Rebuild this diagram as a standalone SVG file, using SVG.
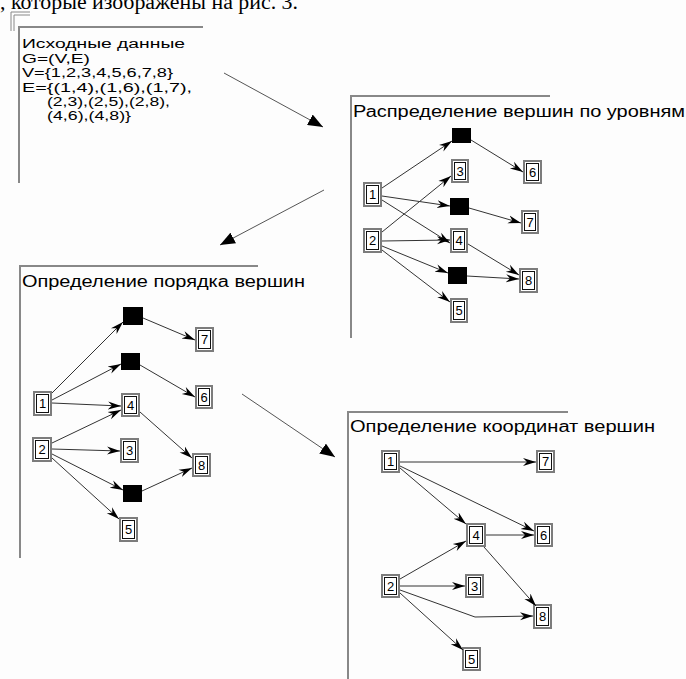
<svg xmlns="http://www.w3.org/2000/svg" width="686" height="679" viewBox="0 0 686 679">
<style>
.bg{fill:#fdfdfd}
.frame{stroke:#888;stroke-width:2;fill:none}
.t{font-family:"Liberation Sans",Arial,sans-serif;fill:#000}
.p1{font-size:12.5px}
.title{font-size:16px}
.num{font-size:13px;text-anchor:middle}
.ob{fill:#fff;stroke:#7c7c7c;stroke-width:2}
.ib{fill:none;stroke:#111;stroke-width:1}
.blk{fill:#000}
.e{stroke:#333;stroke-width:1;fill:none;marker-end:url(#ah)}
.big{stroke:#555;stroke-width:1;fill:none;marker-end:url(#bh)}
</style>
<defs>
<marker id="ah" markerUnits="userSpaceOnUse" markerWidth="14" markerHeight="10" refX="13" refY="5" orient="auto">
<path d="M0,1 L13,5 L0,9 L4,5 Z" fill="#000"/>
</marker>
<marker id="bh" markerUnits="userSpaceOnUse" markerWidth="16" markerHeight="12" refX="15" refY="6" orient="auto">
<path d="M0,0 L15,6 L0,12 Z" fill="#000"/>
</marker>
</defs>
<rect class="bg" x="0" y="0" width="686" height="679"/>
<text x="0" y="9" font-family="'Liberation Serif','Times New Roman',serif" font-size="20" textLength="298" lengthAdjust="spacingAndGlyphs">, которые изображены на рис. 3.</text>

<g id="panel-input">
<path d="M11,31 V12 H30 M14,31 V15 H30" stroke="#888" stroke-width="1" fill="none"/>
<path class="frame" d="M19,183 V27 H203"/>
<text class="t p1" x="22" y="48" textLength="163" lengthAdjust="spacingAndGlyphs">Исходные данные</text>
<text class="t p1" x="22" y="63" textLength="68" lengthAdjust="spacingAndGlyphs">G=(V,E)</text>
<text class="t p1" x="22" y="77" textLength="151" lengthAdjust="spacingAndGlyphs">V={1,2,3,4,5,6,7,8}</text>
<text class="t p1" x="22" y="92" textLength="170" lengthAdjust="spacingAndGlyphs">E={(1,4),(1,6),(1,7),</text>
<text class="t p1" x="47" y="106" textLength="123" lengthAdjust="spacingAndGlyphs">(2,3),(2,5),(2,8),</text>
<text class="t p1" x="47" y="120" textLength="84" lengthAdjust="spacingAndGlyphs">(4,6),(4,8)}</text>
</g>

<g id="panel-levels">
<path class="frame" d="M351,338 V96 H550"/>
<text class="t title" x="353" y="117" textLength="332" lengthAdjust="spacingAndGlyphs">Распределение вершин по уровням</text>
<g id="L-n1"><rect class="ob" x="364" y="183" width="17" height="23"/><rect class="ib" x="366.5" y="185.5" width="12" height="18"/><text class="t num" x="372.5" y="199">1</text></g>
<g id="L-n2"><rect class="ob" x="364" y="229" width="17" height="23"/><rect class="ib" x="366.5" y="231.5" width="12" height="18"/><text class="t num" x="372.5" y="245">2</text></g>
<g id="L-d1"><rect class="blk" x="452" y="128" width="19" height="15"/></g>
<g id="L-n3"><rect class="ob" x="452" y="160" width="16" height="22"/><rect class="ib" x="454.5" y="162.5" width="11" height="17"/><text class="t num" x="460" y="176">3</text></g>
<g id="L-n6"><rect class="ob" x="524" y="161" width="17" height="22"/><rect class="ib" x="526.5" y="163.5" width="12" height="17"/><text class="t num" x="532.5" y="177">6</text></g>
<g id="L-d2"><rect class="blk" x="450" y="198" width="19" height="17"/></g>
<g id="L-n7"><rect class="ob" x="522" y="211" width="16" height="22"/><rect class="ib" x="524.5" y="213.5" width="11" height="17"/><text class="t num" x="530" y="227">7</text></g>
<g id="L-n4"><rect class="ob" x="451" y="229" width="16" height="23"/><rect class="ib" x="453.5" y="231.5" width="11" height="18"/><text class="t num" x="459" y="245">4</text></g>
<g id="L-d3"><rect class="blk" x="448" y="267" width="19" height="17"/></g>
<g id="L-n8"><rect class="ob" x="520" y="269" width="17" height="23"/><rect class="ib" x="522.5" y="271.5" width="12" height="18"/><text class="t num" x="528.5" y="285">8</text></g>
<g id="L-n5"><rect class="ob" x="451" y="299" width="16" height="23"/><rect class="ib" x="453.5" y="301.5" width="11" height="18"/><text class="t num" x="459" y="315">5</text></g>
</g>

<g id="panel-order">
<path class="frame" d="M20,558 V266 H258"/>
<text class="t title" x="22" y="287" textLength="283" lengthAdjust="spacingAndGlyphs">Определение порядка вершин</text>
<g id="O-d1"><rect class="blk" x="123" y="307" width="20" height="18"/></g>
<g id="O-n7"><rect class="ob" x="196" y="328" width="17" height="23"/><rect class="ib" x="198.5" y="330.5" width="12" height="18"/><text class="t num" x="204.5" y="344">7</text></g>
<g id="O-d2"><rect class="blk" x="121" y="353" width="19" height="17"/></g>
<g id="O-n6"><rect class="ob" x="196" y="386" width="16" height="22"/><rect class="ib" x="198.5" y="388.5" width="11" height="17"/><text class="t num" x="204" y="402">6</text></g>
<g id="O-n1"><rect class="ob" x="34" y="392" width="17" height="23"/><rect class="ib" x="36.5" y="394.5" width="12" height="18"/><text class="t num" x="42.5" y="408">1</text></g>
<g id="O-n4"><rect class="ob" x="122" y="394" width="17" height="22"/><rect class="ib" x="124.5" y="396.5" width="12" height="17"/><text class="t num" x="130.5" y="410">4</text></g>
<g id="O-n2"><rect class="ob" x="33" y="438" width="18" height="23"/><rect class="ib" x="35.5" y="440.5" width="13" height="18"/><text class="t num" x="42" y="454">2</text></g>
<g id="O-n3"><rect class="ob" x="121" y="439" width="17" height="23"/><rect class="ib" x="123.5" y="441.5" width="12" height="18"/><text class="t num" x="129.5" y="455">3</text></g>
<g id="O-n8"><rect class="ob" x="193" y="454" width="17" height="22"/><rect class="ib" x="195.5" y="456.5" width="12" height="17"/><text class="t num" x="201.5" y="470">8</text></g>
<g id="O-d3"><rect class="blk" x="123" y="485" width="19" height="17"/></g>
<g id="O-n5"><rect class="ob" x="120" y="518" width="17" height="23"/><rect class="ib" x="122.5" y="520.5" width="12" height="18"/><text class="t num" x="128.5" y="534">5</text></g>
</g>

<g id="panel-coords">
<path class="frame" d="M348,679 V412 H568"/>
<text class="t title" x="350" y="432" textLength="305" lengthAdjust="spacingAndGlyphs">Определение координат вершин</text>
<g id="C-n1"><rect class="ob" x="382" y="451" width="17" height="21"/><rect class="ib" x="384.5" y="453.5" width="12" height="16"/><text class="t num" x="390.5" y="466">1</text></g>
<g id="C-n7"><rect class="ob" x="537" y="451" width="17" height="21"/><rect class="ib" x="539.5" y="453.5" width="12" height="16"/><text class="t num" x="545.5" y="466">7</text></g>
<g id="C-n4"><rect class="ob" x="467" y="524" width="18" height="22"/><rect class="ib" x="469.5" y="526.5" width="13" height="17"/><text class="t num" x="476" y="540">4</text></g>
<g id="C-n6"><rect class="ob" x="535" y="524" width="17" height="22"/><rect class="ib" x="537.5" y="526.5" width="12" height="17"/><text class="t num" x="543.5" y="540">6</text></g>
<g id="C-n2"><rect class="ob" x="382" y="575" width="17" height="22"/><rect class="ib" x="384.5" y="577.5" width="12" height="17"/><text class="t num" x="390.5" y="591">2</text></g>
<g id="C-n3"><rect class="ob" x="466" y="575" width="17" height="22"/><rect class="ib" x="468.5" y="577.5" width="12" height="17"/><text class="t num" x="474.5" y="591">3</text></g>
<g id="C-n8"><rect class="ob" x="534" y="605" width="17" height="23"/><rect class="ib" x="536.5" y="607.5" width="12" height="18"/><text class="t num" x="542.5" y="621">8</text></g>
<g id="C-n5"><rect class="ob" x="463" y="648" width="17" height="22"/><rect class="ib" x="465.5" y="650.5" width="12" height="17"/><text class="t num" x="471.5" y="664">5</text></g>
</g>

<g id="connectors">
<path class="big" d="M224,73 L323,127"/>
<path class="big" d="M324,190 L220,245"/>
<path class="big" d="M242,394 L335,457"/>

<path class="e" d="M382,188 L452,141"/>
<path class="e" d="M382,196 L450,206"/>
<path class="e" d="M382,200 L450,243"/>
<path class="e" d="M382,232 L451,176"/>
<path class="e" d="M382,241 L450,240"/>
<path class="e" d="M382,246 L448,273"/>
<path class="e" d="M382,250 L450,302"/>
<path class="e" d="M471,140 L523,172"/>
<path class="e" d="M469,208 L521,223"/>
<path class="e" d="M468,244 L519,275"/>
<path class="e" d="M467,276 L519,279"/>

<path class="e" d="M52,393 L123,322"/>
<path class="e" d="M52,400 L121,364"/>
<path class="e" d="M52,403 L121,406"/>
<path class="e" d="M52,443 L121,410"/>
<path class="e" d="M52,449 L120,451"/>
<path class="e" d="M52,454 L123,490"/>
<path class="e" d="M52,458 L119,519"/>
<path class="e" d="M143,318 L195,340"/>
<path class="e" d="M140,365 L195,397"/>
<path class="e" d="M140,412 L192,458"/>
<path class="e" d="M142,491 L192,468"/>

<path class="e" d="M400,462 L536,462"/>
<path class="e" d="M400,468 L466,524"/>
<path class="e" d="M400,466 L534,531"/>
<path class="e" d="M486,535 L534,535"/>
<path class="e" d="M484,547 L536,606"/>
<path class="e" d="M400,579 L466,541"/>
<path class="e" d="M400,586 L465,586"/>
<path class="e" d="M400,590 L475,617 L533,616"/>
<path class="e" d="M400,593 L463,650"/>
</g>
</svg>
